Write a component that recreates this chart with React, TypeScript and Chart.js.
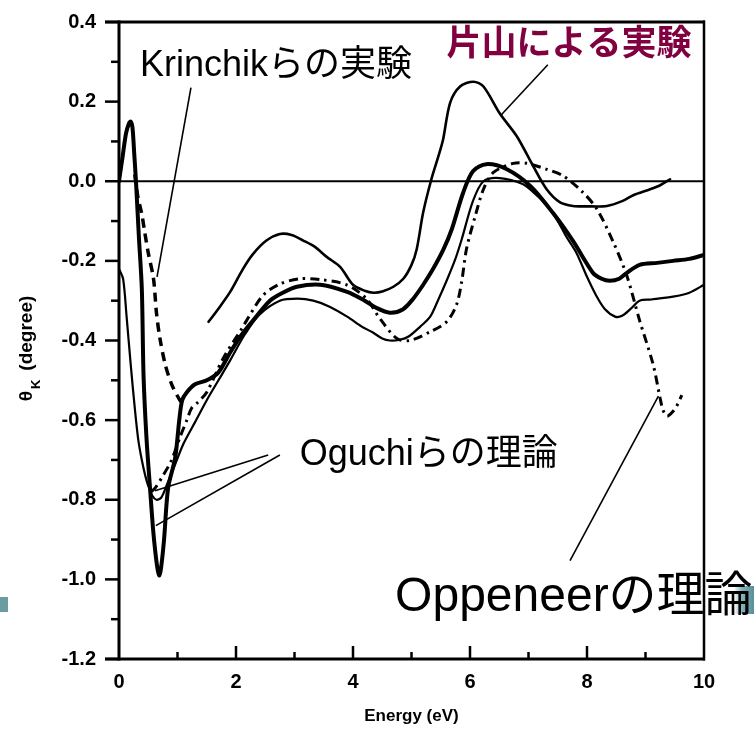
import React, { useEffect, useRef } from 'react';
import { Chart, registerables } from 'chart.js';

Chart.register(...registerables);

// ---------- axes ----------
const xMin = 0;
const xMax = 10;
const yMin = -1.2;
const yMax = 0.4;
const xTickValues = [0, 2, 4, 6, 8, 10];
const xMinorTicks = [1, 3, 5, 7, 9];
const yTickValues = [0.4, 0.2, 0, -0.2, -0.4, -0.6, -0.8, -1.0, -1.2];
const yMinorTicks = [0.3, 0.1, -0.1, -0.3, -0.5, -0.7, -0.9, -1.1];
const xTitle = 'Energy (eV)';
const yTitleSymbol = 'θ';
const yTitleSub = 'K';
const yTitleUnit = '(degree)';

// ---------- series: Oguchi theory (thick solid) ----------
const oguchiThickE = [0, 0.06, 0.12, 0.17, 0.2, 0.23, 0.26, 0.29, 0.34, 0.39, 0.42, 0.47, 0.53, 0.58, 0.62, 0.66, 0.69, 0.72, 0.77, 0.84, 0.96, 1.03, 1.08, 1.16, 1.3, 1.5, 1.7, 1.9, 2.1, 2.29, 2.58, 2.8, 3.04, 3.44, 3.9, 4.2, 4.4, 4.63, 4.85, 5.03, 5.2, 5.37, 5.55, 5.69, 5.88, 6.05, 6.28, 6.63, 7.03, 7.42, 7.76, 8.1, 8.25, 8.39, 8.55, 8.68, 8.9, 9.2, 9.47, 9.75, 10];
const oguchiThickTheta = [0, 0.06, 0.12, 0.145, 0.15, 0.135, 0.07, 0.0, -0.14, -0.27, -0.49, -0.645, -0.77, -0.87, -0.93, -0.975, -0.99, -0.97, -0.9, -0.77, -0.695, -0.6, -0.55, -0.53, -0.51, -0.5, -0.48, -0.43, -0.385, -0.35, -0.3, -0.28, -0.265, -0.26, -0.278, -0.3, -0.318, -0.33, -0.322, -0.295, -0.26, -0.22, -0.17, -0.12, -0.03, 0.025, 0.043, 0.03, -0.012, -0.08, -0.15, -0.23, -0.245, -0.25, -0.245, -0.23, -0.21, -0.205, -0.2, -0.195, -0.185];

// ---------- series: Oguchi theory (thin solid) ----------
const oguchiThinE = [0, 0.07, 0.13, 0.2, 0.27, 0.33, 0.39, 0.45, 0.5, 0.57, 0.64, 0.72, 0.81, 0.95, 1.1, 1.3, 1.5, 1.7, 1.9, 2.15, 2.4, 2.75, 3.05, 3.32, 3.6, 3.9, 4.15, 4.34, 4.5, 4.63, 4.8, 4.95, 5.15, 5.32, 5.45, 5.6, 5.75, 5.86, 6.05, 6.23, 6.51, 6.9, 7.1, 7.31, 7.5, 7.65, 7.82, 8.0, 8.15, 8.3, 8.48, 8.6, 8.75, 8.9, 9.1, 9.47, 9.75, 10];
const oguchiThinTheta = [-0.22, -0.245, -0.34, -0.46, -0.57, -0.65, -0.7, -0.74, -0.765, -0.79, -0.8, -0.795, -0.765, -0.715, -0.66, -0.605, -0.55, -0.5, -0.45, -0.385, -0.335, -0.3, -0.295, -0.3, -0.315, -0.34, -0.365, -0.38, -0.395, -0.4, -0.398, -0.39, -0.365, -0.34, -0.3, -0.25, -0.195, -0.145, -0.05, 0.0, 0.008, -0.007, -0.03, -0.06, -0.1, -0.14, -0.18, -0.24, -0.285, -0.32, -0.34, -0.338, -0.32, -0.3, -0.297, -0.29, -0.28, -0.26];

// ---------- series: Krinchik experiment (dashed) ----------
const krinchikE = [0.27, 0.32, 0.39, 0.44, 0.5, 0.59, 0.64, 0.7, 0.79, 0.9, 1.04, 1.1];
const krinchikTheta = [0.017, -0.037, -0.083, -0.128, -0.18, -0.245, -0.33, -0.395, -0.46, -0.51, -0.55, -0.56];

// ---------- series: Katayama experiment ----------
const katayamaE = [1.53, 1.7, 1.9, 2.12, 2.29, 2.52, 2.75, 2.95, 3.15, 3.35, 3.55, 3.78, 4.0, 4.2, 4.35, 4.5, 4.69, 4.86, 5.0, 5.09, 5.2, 5.34, 5.46, 5.54, 5.66, 5.83, 6.06, 6.23, 6.51, 6.8, 7.08, 7.31, 7.54, 7.76, 8.0, 8.34, 8.6, 8.79, 9.08, 9.25, 9.42];
const katayamaTheta = [-0.353, -0.32, -0.278, -0.22, -0.183, -0.149, -0.1325, -0.135, -0.149, -0.165, -0.19, -0.215, -0.26, -0.275, -0.28, -0.277, -0.265, -0.245, -0.21, -0.17, -0.078, 0.005, 0.063, 0.105, 0.197, 0.238, 0.25, 0.238, 0.17, 0.113, 0.038, -0.02, -0.053, -0.062, -0.063, -0.062, -0.05, -0.035, -0.02, -0.01, 0.005];

// ---------- series: Oppeneer theory (dash-dot) ----------
const oppeneerE = [0.55, 0.62, 0.75, 0.9, 1.05, 1.16, 1.24, 1.35, 1.5, 1.78, 2.1, 2.18, 2.46, 2.75, 3.09, 3.44, 3.89, 4.23, 4.46, 4.75, 4.97, 5.32, 5.6, 5.77, 5.86, 5.94, 6.09, 6.23, 6.4, 6.74, 6.97, 7.31, 7.6, 7.93, 8.17, 8.45, 8.68, 8.9, 9.13, 9.25, 9.3, 9.37, 9.47, 9.55, 9.62];
const oppeneerTheta = [-0.78, -0.77, -0.74, -0.7, -0.64, -0.6, -0.57, -0.555, -0.53, -0.445, -0.37, -0.35, -0.287, -0.258, -0.245, -0.247, -0.26, -0.295, -0.345, -0.395, -0.4, -0.378, -0.353, -0.31, -0.25, -0.17, -0.087, -0.02, 0.022, 0.045, 0.045, 0.03, 0.013, -0.028, -0.07, -0.153, -0.237, -0.35, -0.46, -0.545, -0.575, -0.59, -0.578, -0.56, -0.537];

// ---------- annotations (data units) ----------
const noteTexts = ['Krinchikらの実験', '片山による実験', 'Oguchiらの理論', 'Oppeneerの理論'];
const noteE = [0.36, 5.6, 3.09, 4.72];
const noteTheta = [0.29, 0.35, -0.6875, -1.045];
// leader lines: [E1, θ1, E2, θ2]
const leaderLines = [
  [1.23, 0.235, 0.65, -0.24],
  [7.33, 0.2925, 6.54, 0.1675],
  [2.55, -0.6875, 0.615, -0.7775],
  [2.75, -0.6875, 0.63, -0.865],
  [9.22, -0.54, 7.71, -0.953],
];

const LATIN = '"Liberation Sans", Arial, Helvetica, sans-serif';
const MIXED = '"Liberation Sans", Arial, "Noto Sans CJK JP", sans-serif';
const noteFonts = [
  `36px ${MIXED}`,
  `bold 35px "Noto Sans CJK JP", sans-serif`,
  `36px ${MIXED}`,
  `48px ${MIXED}`,
];
const noteColors = ['#000', '#800040', '#000', '#000'];

const toPts = (xs: number[], ys: number[]) => xs.map((x, i) => ({ x, y: ys[i] }));

const framePlugin = {
  id: 'frame',
  beforeDatasetsDraw(chart: any) {
    const { ctx } = chart;
    const xs = chart.scales.x;
    const ys = chart.scales.y;
    const L = xs.getPixelForValue(xMin);
    const R = xs.getPixelForValue(xMax);
    const T = ys.getPixelForValue(yMax);
    const B = ys.getPixelForValue(yMin);
    ctx.save();
    ctx.strokeStyle = '#000';
    ctx.lineCap = 'butt';
    const line = (x1: number, y1: number, x2: number, y2: number, w: number) => {
      ctx.lineWidth = w;
      ctx.beginPath();
      ctx.moveTo(x1, y1);
      ctx.lineTo(x2, y2);
      ctx.stroke();
    };
    // zero line
    line(L, ys.getPixelForValue(0), R, ys.getPixelForValue(0), 2);
    // frame
    line(L - 14, T, R + 1, T, 3);
    line(L - 14, B, R + 1, B, 3);
    line(L, T - 1.5, L, B + 1.5, 3);
    line(R, T - 1.5, R, B + 1.5, 2.5);
    // y ticks
    yTickValues.forEach((v) => {
      const p = ys.getPixelForValue(v);
      line(L - 14, p, L, p, 2.5);
    });
    yMinorTicks.forEach((v) => {
      const p = ys.getPixelForValue(v);
      line(L - 8, p, L, p, 2.5);
    });
    // x ticks (inward)
    xTickValues.forEach((v) => {
      if (v === xMin || v === xMax) return;
      const p = xs.getPixelForValue(v);
      line(p, B, p, B - 13, 2.5);
    });
    xMinorTicks.forEach((v) => {
      const p = xs.getPixelForValue(v);
      line(p, B, p, B - 7, 2.5);
    });
    ctx.restore();
  },
  afterDraw(chart: any) {
    const { ctx } = chart;
    const xs = chart.scales.x;
    const ys = chart.scales.y;
    const L = xs.getPixelForValue(xMin);
    const R = xs.getPixelForValue(xMax);
    const T = ys.getPixelForValue(yMax);
    const B = ys.getPixelForValue(yMin);
    ctx.save();

    // slide decorations (teal marks)
    ctx.fillStyle = 'rgba(80,140,145,0.85)';
    ctx.fillRect(0, 597, 8, 15);
    const g = ctx.createLinearGradient(734, 0, 754, 0);
    g.addColorStop(0, 'rgba(90,150,160,0.0)');
    g.addColorStop(0.4, 'rgba(90,150,160,0.75)');
    g.addColorStop(1, 'rgba(70,130,140,0.9)');
    ctx.fillStyle = g;
    ctx.fillRect(734, 586, 20, 28);

    // leader lines
    ctx.strokeStyle = '#000';
    ctx.lineWidth = 1.6;
    leaderLines.forEach(([e1, t1, e2, t2]) => {
      ctx.beginPath();
      ctx.moveTo(xs.getPixelForValue(e1), ys.getPixelForValue(t1));
      ctx.lineTo(xs.getPixelForValue(e2), ys.getPixelForValue(t2));
      ctx.stroke();
    });

    // annotation texts
    ctx.textAlign = 'left';
    ctx.textBaseline = 'middle';
    noteTexts.forEach((t, i) => {
      ctx.font = noteFonts[i];
      ctx.fillStyle = noteColors[i];
      ctx.fillText(t, xs.getPixelForValue(noteE[i]), ys.getPixelForValue(noteTheta[i]));
    });

    // x title
    ctx.fillStyle = '#000';
    ctx.font = `bold 17px ${LATIN}`;
    ctx.textAlign = 'center';
    ctx.textBaseline = 'middle';
    ctx.fillText(xTitle, (L + R) / 2, B + 57);

    // y title (rotated, with subscript)
    const cy = (T + B) / 2 + 8;
    ctx.translate(27, cy);
    ctx.rotate(-Math.PI / 2);
    ctx.textAlign = 'left';
    ctx.textBaseline = 'middle';
    const fMain = `bold 19px ${LATIN}`;
    const fSub = `bold 13px ${LATIN}`;
    ctx.font = fMain;
    const w1 = ctx.measureText(yTitleSymbol).width;
    const wGap = 9;
    const w3 = ctx.measureText(yTitleUnit).width;
    ctx.font = fSub;
    const w2 = ctx.measureText(yTitleSub).width;
    const total = w1 + 2 + w2 + wGap + w3;
    let px = -total / 2;
    ctx.font = fMain;
    ctx.fillText(yTitleSymbol, px, 0);
    px += w1 + 2;
    ctx.font = fSub;
    ctx.fillText(yTitleSub, px, 9);
    px += w2 + wGap;
    ctx.font = fMain;
    ctx.fillText(yTitleUnit, px, 0);
    ctx.restore();
  },
};

export default function App() {
  const ref = useRef<HTMLCanvasElement | null>(null);
  useEffect(() => {
    document.body.style.margin = '0';
    const canvas = ref.current;
    if (!canvas) return;
    const base = {
      pointRadius: 0,
      fill: false,
      borderColor: '#000',
      tension: 0.3,
    };
    const chart = new Chart(canvas, {
      type: 'line',
      data: {
        datasets: [
          { ...base, label: 'Katayama', data: toPts(katayamaE, katayamaTheta), borderWidth: 2.6, borderCapStyle: 'round' },
          { ...base, label: 'Oppeneer', data: toPts(oppeneerE, oppeneerTheta), borderWidth: 3, borderDash: [9, 5, 2.5, 5] },
          { ...base, label: 'Krinchik', data: toPts(krinchikE, krinchikTheta), borderWidth: 3.5, borderDash: [9, 6] },
          { ...base, label: 'Oguchi thin', data: toPts(oguchiThinE, oguchiThinTheta), borderWidth: 2.2, borderCapStyle: 'round' },
          { ...base, label: 'Oguchi thick', data: toPts(oguchiThickE, oguchiThickTheta), borderWidth: 4, borderCapStyle: 'round' },
        ] as any,
      },
      options: {
        responsive: false,
        animation: false,
        events: [],
        layout: { padding: { top: 22, right: 50, left: 0, bottom: 0 } },
        plugins: { legend: { display: false }, tooltip: { enabled: false } },
        scales: {
          x: {
            type: 'linear',
            min: xMin,
            max: xMax,
            afterBuildTicks: (s: any) => {
              s.ticks = xTickValues.map((v) => ({ value: v }));
            },
            afterFit: (s: any) => {
              s.height = 70;
              s.paddingLeft = 0;
              s.paddingRight = 0;
            },
            ticks: {
              color: '#000',
              font: { family: LATIN, size: 20, weight: 'bold' },
              padding: 11,
              maxRotation: 0,
              autoSkip: false,
              callback: (v: any) => String(v),
            },
            grid: { display: false, drawTicks: false, tickLength: 0 },
            border: { display: false },
          },
          y: {
            type: 'linear',
            min: yMin,
            max: yMax,
            afterBuildTicks: (s: any) => {
              s.ticks = yTickValues.map((v) => ({ value: v }));
            },
            afterFit: (s: any) => {
              s.width = 119;
              s.paddingTop = 0;
              s.paddingBottom = 0;
            },
            ticks: {
              color: '#000',
              font: { family: LATIN, size: 20, weight: 'bold' },
              padding: 23,
              autoSkip: false,
              callback: (v: any) => Number(v).toFixed(1),
            },
            grid: { display: false, drawTicks: false, tickLength: 0 },
            border: { display: false },
          },
        },
      } as any,
      plugins: [framePlugin],
    });
    return () => chart.destroy();
  }, []);
  return (
    <div style={{ width: 754, height: 729, background: '#fff' }}>
      <canvas ref={ref} width={754} height={729} style={{ display: 'block' }} />
    </div>
  );
}
